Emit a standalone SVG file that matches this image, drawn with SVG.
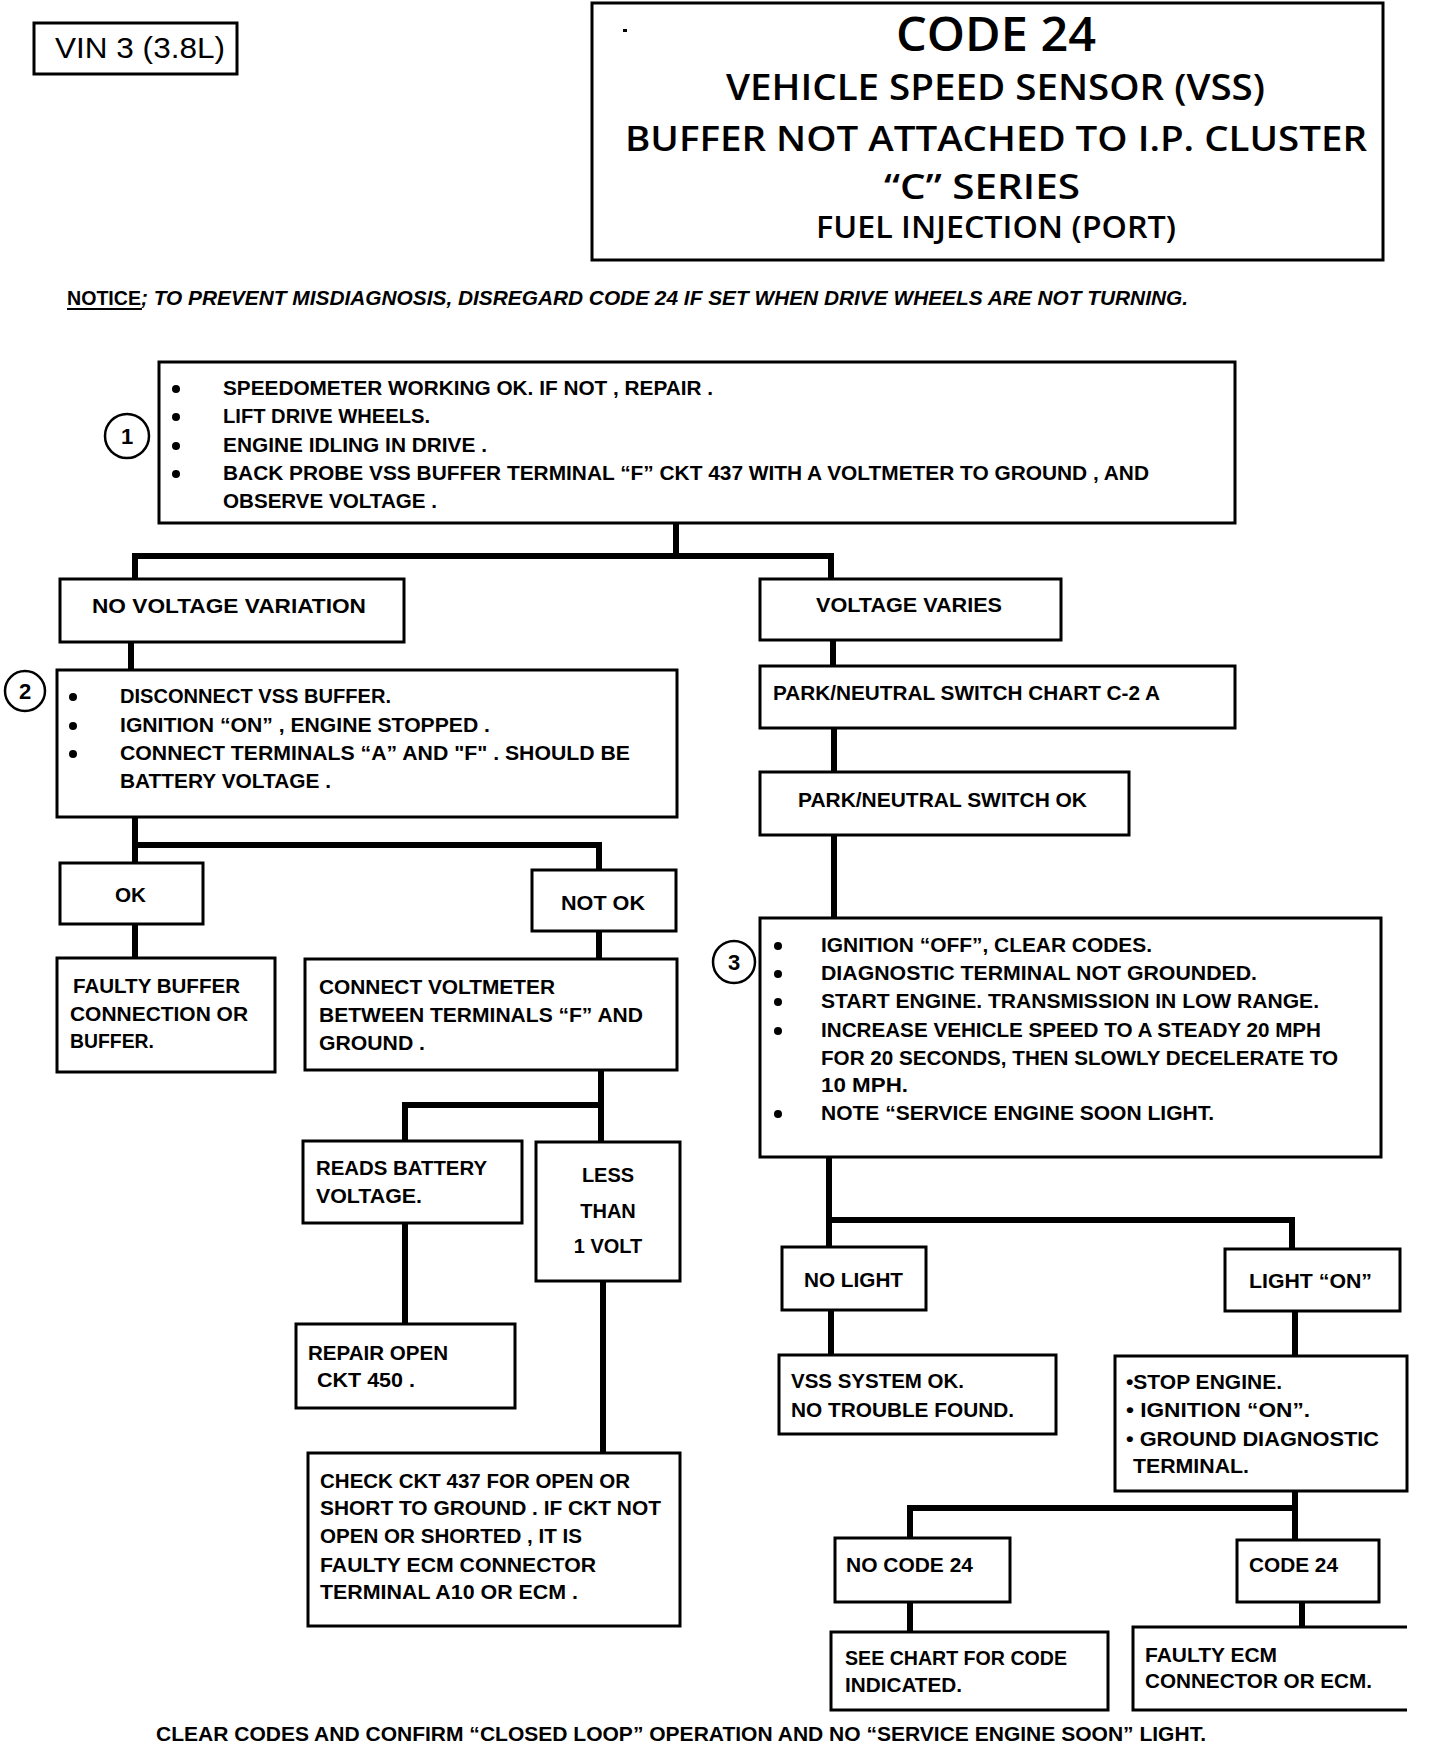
<svg xmlns="http://www.w3.org/2000/svg" width="1440" height="1746" viewBox="0 0 1440 1746">
<style>
.box{fill:#fff;stroke:#000;stroke-width:3}
.c{fill:none;stroke:#000;stroke-width:6}
.t{font-family:"Liberation Sans",Arial,sans-serif;font-weight:bold;font-size:20px;fill:#000}
.h{font-family:"Open Sans","Liberation Sans",Arial,sans-serif;font-weight:600;fill:#000;text-anchor:start}
.n{fill:#fff;stroke:#000;stroke-width:2.5}
.nt{font-family:"Liberation Sans",Arial,sans-serif;font-weight:bold;font-size:22px;text-anchor:middle}
.d{fill:#000}
</style>
<rect width="1440" height="1746" fill="#fff"/>

<g id="vin">
<rect class="box" x="34" y="23" width="203" height="51"/>
<text x="55" y="58" style="font-family:'Liberation Sans',Arial,sans-serif;font-size:29px" textLength="170" lengthAdjust="spacingAndGlyphs">VIN 3 (3.8L)</text>
</g>

<g id="title">
<rect class="box" x="592" y="3" width="791" height="257"/>
<rect x="623" y="29" width="4" height="3" class="d"/>
<text class="h" x="896" y="51" font-size="47" textLength="200" lengthAdjust="spacingAndGlyphs">CODE 24</text>
<text class="h" x="726" y="100" font-size="36" textLength="539" lengthAdjust="spacingAndGlyphs">VEHICLE SPEED SENSOR (VSS)</text>
<text class="h" x="625" y="151" font-size="34" textLength="742" lengthAdjust="spacingAndGlyphs">BUFFER NOT ATTACHED TO  I.P. CLUSTER</text>
<text class="h" x="884" y="199" font-size="34" textLength="196" lengthAdjust="spacingAndGlyphs">“C” SERIES</text>
<text class="h" x="816" y="238" font-size="30" textLength="360" lengthAdjust="spacingAndGlyphs">FUEL INJECTION (PORT)</text>
</g>

<g id="notice">
<text class="t" x="67" y="305" font-size="20" textLength="74" lengthAdjust="spacingAndGlyphs">NOTICE</text>
<rect x="67" y="308" width="75" height="2" class="d"/>
<text class="t" x="141" y="305" font-size="20" font-style="italic" textLength="1047" lengthAdjust="spacingAndGlyphs">; TO PREVENT MISDIAGNOSIS, DISREGARD CODE 24 IF SET WHEN DRIVE WHEELS ARE NOT TURNING.</text>
</g>

<g id="connectors">
<path class="c" d="M676,523 V556 M135,579 V556 H831 V579"/>
<path class="c" d="M131,642 V670"/>
<path class="c" d="M833,640 V666"/>
<path class="c" d="M834,728 V772"/>
<path class="c" d="M834,835 V918"/>
<path class="c" d="M135,817 V863 M135,845 H599 V870"/>
<path class="c" d="M135,924 V958"/>
<path class="c" d="M599,931 V959"/>
<path class="c" d="M601,1070 V1142 M405,1142 V1105 H601"/>
<path class="c" d="M405,1223 V1324"/>
<path class="c" d="M603,1281 V1453"/>
<path class="c" d="M829,1157 V1247 M829,1220 H1292 V1249"/>
<path class="c" d="M831,1310 V1355"/>
<path class="c" d="M1295,1311 V1356"/>
<path class="c" d="M1295,1491 V1540 M910,1538 V1508 H1295"/>
<path class="c" d="M910,1602 V1632"/>
<path class="c" d="M1302,1602 V1627"/>
</g>

<g id="step1">
<rect class="box" x="159" y="362" width="1076" height="161"/>
<circle class="d" cx="176" cy="389" r="4"/>
<circle class="d" cx="176" cy="417" r="4"/>
<circle class="d" cx="176" cy="446" r="4"/>
<circle class="d" cx="176" cy="474" r="4"/>
<text class="t" x="223" y="395" textLength="490" lengthAdjust="spacingAndGlyphs">SPEEDOMETER WORKING OK. IF NOT , REPAIR .</text>
<text class="t" x="223" y="423" textLength="207" lengthAdjust="spacingAndGlyphs">LIFT DRIVE WHEELS.</text>
<text class="t" x="223" y="452" textLength="264" lengthAdjust="spacingAndGlyphs">ENGINE IDLING IN DRIVE .</text>
<text class="t" x="223" y="480" textLength="926" lengthAdjust="spacingAndGlyphs">BACK PROBE VSS BUFFER TERMINAL “F” CKT 437 WITH A VOLTMETER TO GROUND , AND</text>
<text class="t" x="223" y="508" textLength="214" lengthAdjust="spacingAndGlyphs">OBSERVE VOLTAGE .</text>
</g>
<g id="num1">
<circle class="n" cx="127" cy="436" r="22"/>
<text class="nt" x="127" y="444">1</text>
</g>

<g id="novar">
<rect class="box" x="60" y="579" width="344" height="63"/>
<text class="t" x="92" y="613" textLength="274" lengthAdjust="spacingAndGlyphs">NO VOLTAGE  VARIATION</text>
</g>
<g id="varies">
<rect class="box" x="760" y="579" width="301" height="61"/>
<text class="t" x="816" y="612" textLength="186" lengthAdjust="spacingAndGlyphs">VOLTAGE  VARIES</text>
</g>

<g id="step2">
<rect class="box" x="57" y="670" width="620" height="147"/>
<circle class="d" cx="73" cy="697" r="4"/>
<circle class="d" cx="73" cy="726" r="4"/>
<circle class="d" cx="73" cy="754" r="4"/>
<text class="t" x="120" y="703" textLength="271" lengthAdjust="spacingAndGlyphs">DISCONNECT VSS BUFFER.</text>
<text class="t" x="120" y="732" textLength="370" lengthAdjust="spacingAndGlyphs">IGNITION “ON” , ENGINE STOPPED .</text>
<text class="t" x="120" y="760" textLength="510" lengthAdjust="spacingAndGlyphs">CONNECT TERMINALS “A” AND "F" . SHOULD BE</text>
<text class="t" x="120" y="788" textLength="211" lengthAdjust="spacingAndGlyphs">BATTERY VOLTAGE .</text>
</g>
<g id="num2">
<circle class="n" cx="25" cy="691" r="20"/>
<text class="nt" x="25" y="699">2</text>
</g>

<g id="pnchart">
<rect class="box" x="760" y="666" width="475" height="62"/>
<text class="t" x="773" y="700" textLength="387" lengthAdjust="spacingAndGlyphs">PARK/NEUTRAL SWITCH CHART C-2 A</text>
</g>
<g id="pnok">
<rect class="box" x="760" y="772" width="369" height="63"/>
<text class="t" x="798" y="807" textLength="289" lengthAdjust="spacingAndGlyphs">PARK/NEUTRAL SWITCH OK</text>
</g>

<g id="ok">
<rect class="box" x="60" y="863" width="143" height="61"/>
<text class="t" x="115" y="902" textLength="31" lengthAdjust="spacingAndGlyphs">OK</text>
</g>
<g id="notok">
<rect class="box" x="532" y="870" width="144" height="61"/>
<text class="t" x="561" y="910" textLength="84" lengthAdjust="spacingAndGlyphs">NOT OK</text>
</g>

<g id="faultybuf">
<rect class="box" x="57" y="958" width="218" height="114"/>
<text class="t" x="73" y="993" textLength="167" lengthAdjust="spacingAndGlyphs">FAULTY BUFFER</text>
<text class="t" x="70" y="1021" textLength="178" lengthAdjust="spacingAndGlyphs">CONNECTION OR</text>
<text class="t" x="70" y="1048" textLength="84" lengthAdjust="spacingAndGlyphs">BUFFER.</text>
</g>

<g id="connvm">
<rect class="box" x="305" y="959" width="372" height="111"/>
<text class="t" x="319" y="994" textLength="236" lengthAdjust="spacingAndGlyphs">CONNECT VOLTMETER</text>
<text class="t" x="319" y="1022" textLength="324" lengthAdjust="spacingAndGlyphs">BETWEEN TERMINALS “F” AND</text>
<text class="t" x="319" y="1050" textLength="106" lengthAdjust="spacingAndGlyphs">GROUND .</text>
</g>

<g id="reads">
<rect class="box" x="303" y="1141" width="219" height="82"/>
<text class="t" x="316" y="1175" textLength="171" lengthAdjust="spacingAndGlyphs">READS BATTERY</text>
<text class="t" x="316" y="1203" textLength="106" lengthAdjust="spacingAndGlyphs">VOLTAGE.</text>
</g>

<g id="less">
<rect class="box" x="536" y="1142" width="144" height="139"/>
<text class="t" x="608" y="1182" text-anchor="middle">LESS</text>
<text class="t" x="608" y="1218" text-anchor="middle">THAN</text>
<text class="t" x="608" y="1253" text-anchor="middle">1  VOLT</text>
</g>

<g id="repair">
<rect class="box" x="296" y="1324" width="219" height="84"/>
<text class="t" x="308" y="1360" textLength="140" lengthAdjust="spacingAndGlyphs">REPAIR OPEN</text>
<text class="t" x="317" y="1387" textLength="98" lengthAdjust="spacingAndGlyphs">CKT 450 .</text>
</g>

<g id="check">
<rect class="box" x="308" y="1453" width="372" height="173"/>
<text class="t" x="320" y="1488" textLength="310" lengthAdjust="spacingAndGlyphs">CHECK CKT 437 FOR OPEN OR</text>
<text class="t" x="320" y="1515" textLength="341" lengthAdjust="spacingAndGlyphs">SHORT TO GROUND . IF CKT NOT</text>
<text class="t" x="320" y="1543" textLength="262" lengthAdjust="spacingAndGlyphs">OPEN OR SHORTED , IT IS</text>
<text class="t" x="320" y="1572" textLength="276" lengthAdjust="spacingAndGlyphs">FAULTY ECM CONNECTOR</text>
<text class="t" x="320" y="1599" textLength="258" lengthAdjust="spacingAndGlyphs">TERMINAL A10 OR ECM .</text>
</g>

<g id="step3">
<rect class="box" x="760" y="918" width="621" height="239"/>
<circle class="d" cx="778" cy="946" r="4"/>
<circle class="d" cx="778" cy="974" r="4"/>
<circle class="d" cx="778" cy="1002" r="4"/>
<circle class="d" cx="778" cy="1031" r="4"/>
<circle class="d" cx="778" cy="1114" r="4"/>
<text class="t" x="821" y="952" textLength="331" lengthAdjust="spacingAndGlyphs">IGNITION “OFF”, CLEAR CODES.</text>
<text class="t" x="821" y="980" textLength="436" lengthAdjust="spacingAndGlyphs">DIAGNOSTIC TERMINAL NOT GROUNDED.</text>
<text class="t" x="821" y="1008" textLength="498" lengthAdjust="spacingAndGlyphs">START ENGINE. TRANSMISSION IN LOW RANGE.</text>
<text class="t" x="821" y="1037" textLength="500" lengthAdjust="spacingAndGlyphs">INCREASE VEHICLE SPEED TO A STEADY 20 MPH</text>
<text class="t" x="821" y="1065" textLength="517" lengthAdjust="spacingAndGlyphs">FOR 20 SECONDS, THEN SLOWLY DECELERATE TO</text>
<text class="t" x="821" y="1092" textLength="87" lengthAdjust="spacingAndGlyphs">10 MPH.</text>
<text class="t" x="821" y="1120" textLength="393" lengthAdjust="spacingAndGlyphs">NOTE “SERVICE ENGINE SOON LIGHT.</text>
</g>
<g id="num3">
<circle class="n" cx="734" cy="962" r="21"/>
<text class="nt" x="734" y="970" font-size="20">3</text>
</g>

<g id="nolight">
<rect class="box" x="782" y="1247" width="144" height="63"/>
<text class="t" x="804" y="1287" textLength="99" lengthAdjust="spacingAndGlyphs">NO LIGHT</text>
</g>
<g id="lighton">
<rect class="box" x="1225" y="1249" width="175" height="62"/>
<text class="t" x="1249" y="1288" textLength="123" lengthAdjust="spacingAndGlyphs">LIGHT “ON”</text>
</g>

<g id="vssok">
<rect class="box" x="779" y="1355" width="277" height="79"/>
<text class="t" x="791" y="1388" textLength="173" lengthAdjust="spacingAndGlyphs">VSS SYSTEM OK.</text>
<text class="t" x="791" y="1417" textLength="223" lengthAdjust="spacingAndGlyphs">NO TROUBLE FOUND.</text>
</g>

<g id="stopeng">
<rect class="box" x="1115" y="1356" width="292" height="135"/>
<text class="t" x="1126" y="1389" textLength="156" lengthAdjust="spacingAndGlyphs">•STOP ENGINE.</text>
<text class="t" x="1126" y="1417" textLength="184" lengthAdjust="spacingAndGlyphs">• IGNITION “ON”.</text>
<text class="t" x="1126" y="1446" textLength="253" lengthAdjust="spacingAndGlyphs">• GROUND DIAGNOSTIC</text>
<text class="t" x="1133" y="1473" textLength="116" lengthAdjust="spacingAndGlyphs">TERMINAL.</text>
</g>

<g id="nocode">
<rect class="box" x="835" y="1538" width="175" height="64"/>
<text class="t" x="846" y="1572" textLength="127" lengthAdjust="spacingAndGlyphs">NO CODE 24</text>
</g>
<g id="code24">
<rect class="box" x="1237" y="1540" width="142" height="62"/>
<text class="t" x="1249" y="1572" textLength="89" lengthAdjust="spacingAndGlyphs">CODE 24</text>
</g>

<g id="seechart">
<rect class="box" x="831" y="1632" width="277" height="78"/>
<text class="t" x="845" y="1665" textLength="222" lengthAdjust="spacingAndGlyphs">SEE CHART FOR CODE</text>
<text class="t" x="845" y="1692" textLength="117" lengthAdjust="spacingAndGlyphs">INDICATED.</text>
</g>

<g id="faultyecm">
<path class="box" d="M1407,1627 H1133 V1710 H1407" fill="none"/>
<text class="t" x="1145" y="1662" textLength="132" lengthAdjust="spacingAndGlyphs">FAULTY ECM</text>
<text class="t" x="1145" y="1688" textLength="227" lengthAdjust="spacingAndGlyphs">CONNECTOR OR ECM.</text>
</g>

<g id="footer">
<text class="t" x="156" y="1741" textLength="1050" lengthAdjust="spacingAndGlyphs">CLEAR CODES AND CONFIRM “CLOSED LOOP” OPERATION AND NO “SERVICE ENGINE SOON” LIGHT.</text>
</g>
</svg>
